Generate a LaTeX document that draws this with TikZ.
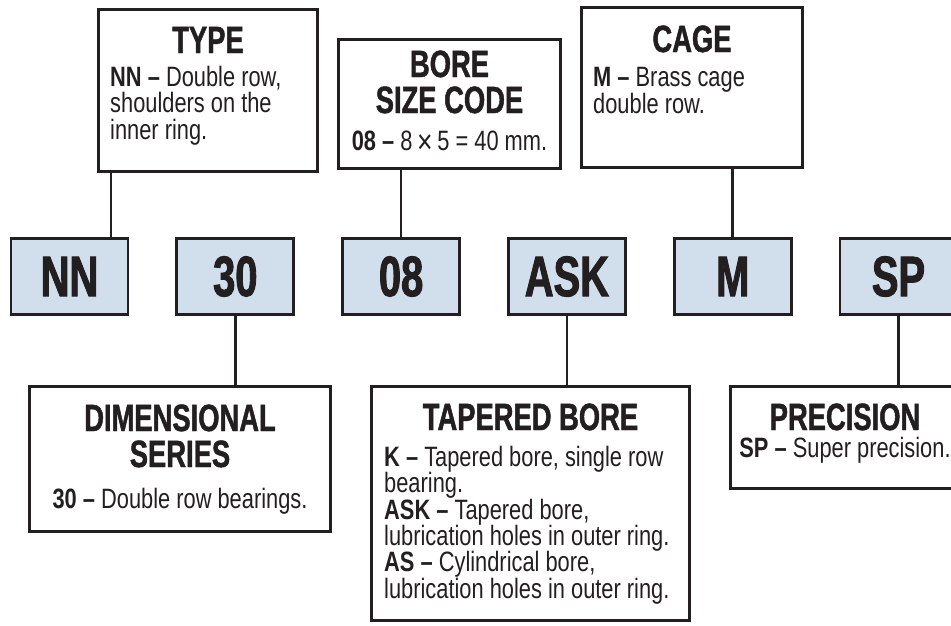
\documentclass[tikz,border=0pt]{standalone}
\usepackage{fontspec}
\setmainfont[FakeStretch=0.78]{Liberation Sans}
\newfontfamily\headfamily[FakeStretch=0.72, BoldFeatures={FakeBold=1.2}]{Liberation Sans}
\newfontfamily\codefamily[FakeStretch=0.70, BoldFeatures={FakeBold=1.6}]{Liberation Sans}
\usetikzlibrary{positioning}

\definecolor{ink}{HTML}{231F20}
\definecolor{codeblue}{HTML}{D1DEEC}
\newcommand\bodyfont{\fontsize{28pt}{26.3pt}\selectfont}
\newcommand\headfont{\headfamily\bfseries\fontsize{38pt}{36pt}\selectfont}
\newcommand\codefont{\codefamily\bfseries\fontsize{57pt}{57pt}\selectfont}
\newcommand\bigtimes{\raisebox{-3.5pt}{\fontsize{34pt}{34pt}\selectfont ×}}

\begin{document}
\begin{tikzpicture}[
  x=1pt, y=-1pt,
  font=\bodyfont, text=ink,
  node distance=46pt,
  infobox/.style={draw=ink, line width=2.8pt, fill=white, anchor=north west,
    inner sep=0pt},
  codebox/.style={draw=ink, line width=2.8pt, fill=codeblue, minimum width=117pt,
    minimum height=76pt, inner sep=0pt, font=\codefont},
  head/.style={anchor=base, align=center, inner sep=0pt, font=\headfont},
  body/.style={anchor=base west, align=left, inner sep=0pt},
  link/.style={draw=ink, line width=2.6pt},
]
  \useasboundingbox (0,0) rectangle (951,625);

  % description boxes
  \node[infobox, minimum width=219.2pt, minimum height=162.2pt] (type) at (97,8) {};
  \node[infobox, minimum width=222.2pt, minimum height=129.2pt] (bore) at (337,38) {};
  \node[infobox, minimum width=221.2pt, minimum height=160.2pt] (cage) at (580,6) {};
  \node[infobox, minimum width=301.2pt, minimum height=145.2pt] (dim) at (28,385) {};
  \node[infobox, minimum width=318.2pt, minimum height=234.2pt] (tap) at (370,385) {};
  \node[infobox, minimum width=229.2pt, minimum height=102.2pt] (prec) at (729,385) {};

  % designation
  \node[codebox] (nn) at (69.5,276.5) {NN};
  \node[codebox, right=of nn] (c30) {30};
  \node[codebox, right=of c30] (c08) {08};
  \node[codebox, right=of c08] (ask) {ASK};
  \node[codebox, right=of ask] (m) {M};
  \node[codebox, right=of m] (sp) {SP};

  % texts (base = last line)
  \node[head] (typehead) at (208,53) {TYPE};
  \node[body] (typetext) at (110,139) {\textbf{NN –} Double row,\\shoulders on the\\inner ring.};
  \node[head] (borehead) at (449.5,113) {BORE\\SIZE CODE};
  \node[body, anchor=base] (boretext) at (449.5,150) {\textbf{08 –} 8\,\bigtimes\,5 = 40 mm.};
  \node[head] (cagehead) at (692,52) {CAGE};
  \node[body] (cagetext) at (593,113) {\textbf{M –} Brass cage\\double row.};
  \node[head] (dimhead) at (180,467) {DIMENSIONAL\\SERIES};
  \node[body, anchor=base] (dimtext) at (180,508) {\textbf{30 –} Double row bearings.};
  \node[head] (taphead) at (530.5,430) {TAPERED BORE};
  \node[body] (taptext) at (384,598) {\textbf{K –} Tapered bore, single row\\bearing.\\
    \textbf{ASK –} Tapered bore,\\lubrication holes in outer ring.\\
    \textbf{AS –} Cylindrical bore,\\lubrication holes in outer ring.};
  \node[head] (prechead) at (845,430) {PRECISION};
  \node[body, anchor=base] (prectext) at (845,457) {\textbf{SP –} Super precision.};

  % connectors
  \draw[link] ([xshift=14pt]type.south west) -- ([xshift=14pt]type.south west |- nn.north);
  \foreach \a/\b in {c08/bore, m/cage}
    \draw[link] (\a.north) -- (\a.north |- \b.south);
  \foreach \a/\b in {c30/dim, ask/tap, sp/prec}
    \draw[link] (\a.south) -- (\a.south |- \b.north);
\end{tikzpicture}
\end{document}
